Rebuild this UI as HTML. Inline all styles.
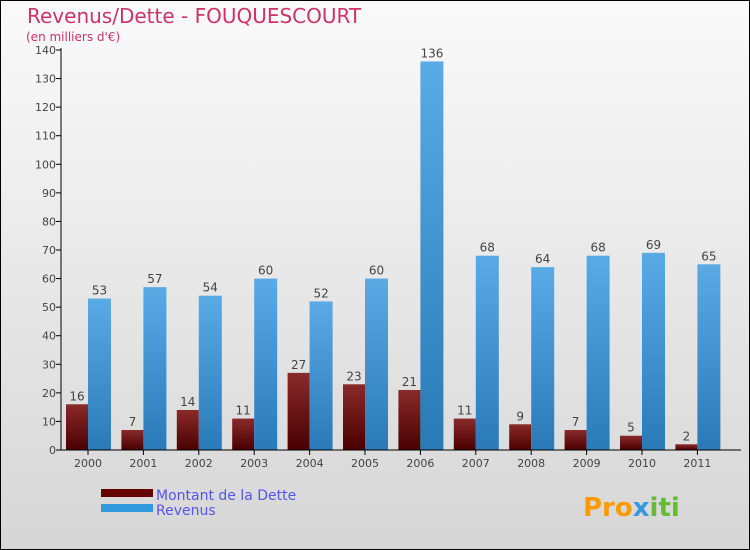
<!DOCTYPE html>
<html><head><meta charset="utf-8"><style>
body{margin:0;}
#c{position:relative;width:748px;height:548px;border:1px solid #000;background:linear-gradient(#fafafa,#d6d6d6);font-family:"DejaVu Sans","Liberation Sans",sans-serif;overflow:hidden}
</style></head><body>
<div id="c">
<svg id="s" width="748" height="548" xmlns="http://www.w3.org/2000/svg">
<defs>
<linearGradient id="gd" x1="0" y1="0" x2="0" y2="1"><stop offset="0" stop-color="#8a2a2a"/><stop offset="1" stop-color="#4a0000"/></linearGradient>
<linearGradient id="gr" x1="0" y1="0" x2="0" y2="1"><stop offset="0" stop-color="#5aaae6"/><stop offset="1" stop-color="#2a7ab8"/></linearGradient>
</defs>
<text x="26" y="22" font-size="20" fill="#cc3366">Revenus/Dette - FOUQUESCOURT</text>
<text x="25" y="40" font-size="12" fill="#cc3366">(en milliers d'€)</text>
<g id="plot"></g>
<rect x="100" y="488" width="52" height="8" fill="#660000"/>
<rect x="100" y="503" width="52" height="8" fill="#3399dd"/>
<text x="155" y="499" font-size="14" fill="#5555ee">Montant de la Dette</text>
<text x="155" y="514" font-size="14" fill="#5555ee">Revenus</text>
<text x="582" y="515" font-size="26" font-weight="bold" fill="#ff9900">Pro<tspan fill="#3399dd">x</tspan><tspan fill="#66bb33">iti</tspan></text>
</svg>
</div>
<script>
const years=["2000","2001","2002","2003","2004","2005","2006","2007","2008","2009","2010","2011"];
const dette=[16,7,14,11,27,23,21,11,9,7,5,2];
const revenus=[53,57,54,60,52,60,136,68,64,68,69,65];
const ticks=[0,10,20,30,40,50,60,70,80,90,100,110,120,130,140];
const NS="http://www.w3.org/2000/svg";
const g=document.getElementById('plot');
const y0=449,ppu=400/140,x0=64,step=55.4;
const Y=v=>y0-v*ppu;
function mk(t,a,txt){const e=document.createElementNS(NS,t);for(const k in a)e.setAttribute(k,a[k]);if(txt!==undefined)e.textContent=txt;g.appendChild(e);return e;}
ticks.forEach(t=>{
const l=mk('line',{x1:55,x2:60,y1:Y(t),y2:Y(t),stroke:'#000'});


const tx=mk('text',{x:55,y:Y(t)+4,'font-size':11,'text-anchor':'end',fill:'#444'},t);


});
years.forEach((yr,i)=>{
const gx=x0+i*step;
const hd=dette[i]*ppu,hr=revenus[i]*ppu;
const b1=mk('rect',{x:gx+1,y:Y(dette[i]),width:22,height:hd,fill:'url(#gd)'});


const b2=mk('rect',{x:gx+23,y:Y(revenus[i]),width:23,height:hr,fill:'url(#gr)'});


const l1=mk('text',{x:gx+12,y:Y(dette[i])-4,'font-size':12,'text-anchor':'middle',fill:'#444'},dette[i]);


const l2=mk('text',{x:gx+34.5,y:Y(revenus[i])-4,'font-size':12,'text-anchor':'middle',fill:'#444'},revenus[i]);


const tk=mk('line',{x1:gx+23,x2:gx+23,y1:y0,y2:y0+5,stroke:'#000'});


const xl=mk('text',{x:gx+23,y:y0+17,'font-size':11,'text-anchor':'middle',fill:'#444'},yr);


});
const ya=mk('line',{x1:60,x2:60,y1:Y(140)-2,y2:y0,stroke:'#000'});


const xa=mk('line',{x1:60,x2:740,y1:y0,y2:y0,stroke:'#000'});


</script>
</body></html>
